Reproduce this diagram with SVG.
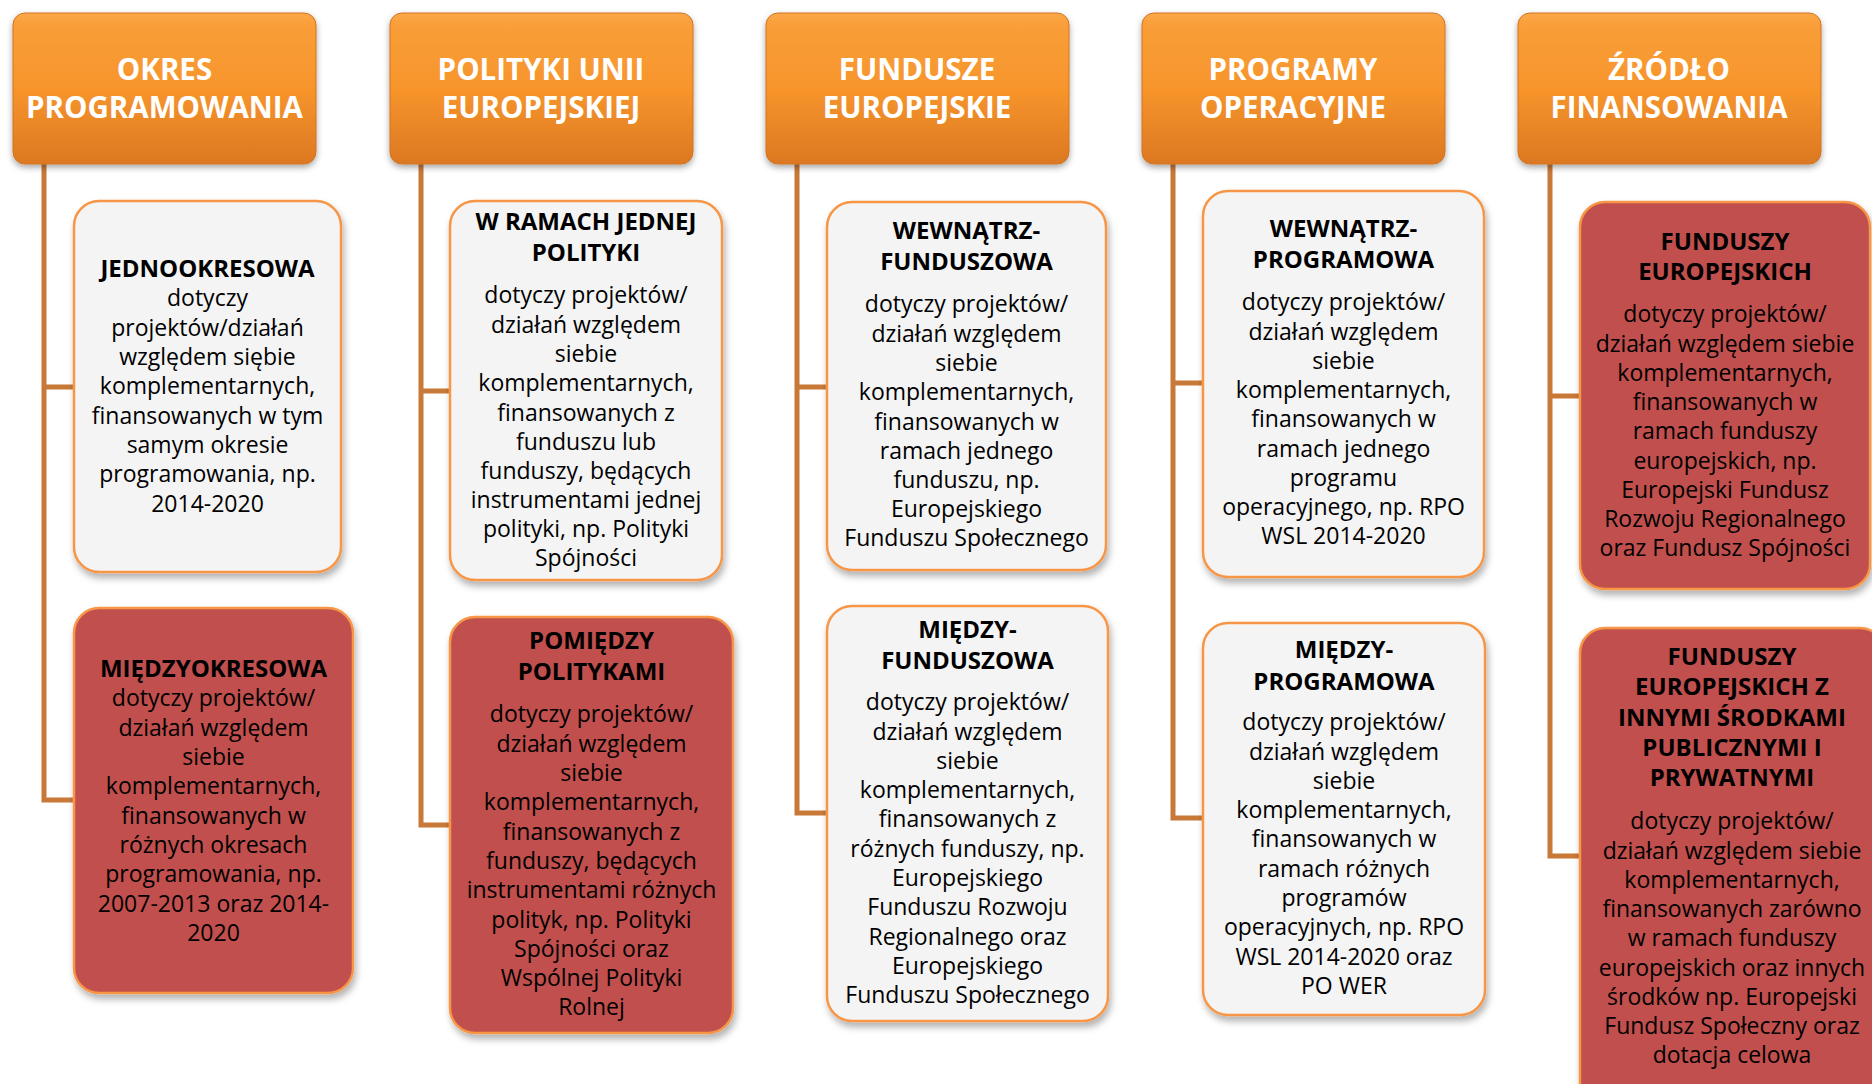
<svg xmlns="http://www.w3.org/2000/svg" width="1872" height="1084" viewBox="0 0 1872 1084">
<style>
.hdr{stroke:#D2741E;stroke-width:1;filter:url(#hs)}
.ht{font-family:"Open Sans","Noto Sans",sans-serif;font-weight:bold;font-size:29.5px;fill:#FFFFFF;text-anchor:middle}
.lt{fill:#F4F4F4;stroke:#F79646;stroke-width:2.5;filter:url(#bs)}
.rd{fill:#C0504D;stroke:#F79646;stroke-width:2.5;filter:url(#bs)}
.tt{font-family:"Open Sans","Noto Sans",sans-serif;font-weight:bold;font-size:24px;fill:#000;text-anchor:middle}
.bt{font-family:"Open Sans","Noto Sans",sans-serif;font-size:23px;fill:#000;text-anchor:middle}
.cn{fill:none;stroke:#C87937;stroke-width:5;stroke-linejoin:miter}
</style>
<defs>
<linearGradient id="hg" x1="0" y1="0" x2="0" y2="1">
<stop offset="0" stop-color="#FBA84A"/>
<stop offset="0.08" stop-color="#F99E38"/>
<stop offset="0.5" stop-color="#F7952C"/>
<stop offset="1" stop-color="#DC7822"/>
</linearGradient>
<filter id="hs" x="-10%" y="-10%" width="120%" height="130%">
<feDropShadow dx="0" dy="3" stdDeviation="3" flood-color="#000" flood-opacity="0.35"/>
</filter>
<filter id="bs" x="-10%" y="-10%" width="125%" height="125%">
<feDropShadow dx="2" dy="5" stdDeviation="3.5" flood-color="#000" flood-opacity="0.3"/>
</filter>
</defs>
<rect width="1872" height="1084" fill="#FFFFFF"/>

<g id="connectors">
<path class="cn" d="M44,164 V800 H74 M44,387 H74"/>
<path class="cn" d="M421,164 V825 H450 M421,391 H450"/>
<path class="cn" d="M797,164 V813 H827 M797,387 H827"/>
<path class="cn" d="M1173,164 V818 H1203 M1173,383 H1203"/>
<path class="cn" d="M1550,164 V856 H1580 M1550,396 H1580"/>
</g>

<g id="h1"><rect class="hdr" x="13" y="13" width="303" height="151" rx="12" fill="url(#hg)"/>
<text class="ht" x="164.5" y="80">OKRES</text><text class="ht" x="164.5" y="118">PROGRAMOWANIA</text></g>
<g id="h2"><rect class="hdr" x="390" y="13" width="303" height="151" rx="12" fill="url(#hg)"/>
<text class="ht" x="541" y="80">POLITYKI UNII</text><text class="ht" x="541" y="118">EUROPEJSKIEJ</text></g>
<g id="h3"><rect class="hdr" x="766" y="13" width="303" height="151" rx="12" fill="url(#hg)"/>
<text class="ht" x="917" y="80">FUNDUSZE</text><text class="ht" x="917" y="118">EUROPEJSKIE</text></g>
<g id="h4"><rect class="hdr" x="1142" y="13" width="303" height="151" rx="12" fill="url(#hg)"/>
<text class="ht" x="1293" y="80">PROGRAMY</text><text class="ht" x="1293" y="118">OPERACYJNE</text></g>
<g id="h5"><rect class="hdr" x="1518" y="13" width="303" height="151" rx="12" fill="url(#hg)"/>
<text class="ht" x="1669" y="80">ŹRÓDŁO</text><text class="ht" x="1669" y="118">FINANSOWANIA</text></g>

<g id="b1a"><rect class="lt" x="74" y="201" width="267" height="371" rx="25"/>
<text class="tt" x="207.5" y="277">JEDNOOKRESOWA</text>
<text class="bt" x="207.5" y="306">dotyczy</text>
<text class="bt" x="207.5" y="335.5">projektów/działań</text>
<text class="bt" x="207.5" y="365">względem siębie</text>
<text class="bt" x="207.5" y="394">komplementarnych,</text>
<text class="bt" x="207.5" y="423.5">finansowanych w tym</text>
<text class="bt" x="207.5" y="453">samym okresie</text>
<text class="bt" x="207.5" y="482">programowania, np.</text>
<text class="bt" x="207.5" y="511.5">2014-2020</text></g>

<g id="b1b"><rect class="rd" x="74" y="608" width="279" height="385" rx="25"/>
<text class="tt" x="213.5" y="677">MIĘDZYOKRESOWA</text>
<text class="bt" x="213.5" y="706">dotyczy projektów/</text>
<text class="bt" x="213.5" y="735.5">działań względem</text>
<text class="bt" x="213.5" y="765">siebie</text>
<text class="bt" x="213.5" y="794">komplementarnych,</text>
<text class="bt" x="213.5" y="823.5">finansowanych w</text>
<text class="bt" x="213.5" y="853">różnych okresach</text>
<text class="bt" x="213.5" y="882">programowania, np.</text>
<text class="bt" x="213.5" y="911.5">2007-2013 oraz 2014-</text>
<text class="bt" x="213.5" y="941">2020</text></g>

<g id="b2a"><rect class="lt" x="450" y="201" width="272" height="379" rx="25"/>
<text class="tt" x="586" y="230">W RAMACH JEDNEJ</text>
<text class="tt" x="586" y="261">POLITYKI</text>
<text class="bt" x="586" y="303">dotyczy projektów/</text>
<text class="bt" x="586" y="332.5">działań względem</text>
<text class="bt" x="586" y="362">siebie</text>
<text class="bt" x="586" y="391">komplementarnych,</text>
<text class="bt" x="586" y="420.5">finansowanych z</text>
<text class="bt" x="586" y="450">funduszu lub</text>
<text class="bt" x="586" y="479">funduszy, będących</text>
<text class="bt" x="586" y="508">instrumentami jednej</text>
<text class="bt" x="586" y="537">polityki, np. Polityki</text>
<text class="bt" x="586" y="566">Spójności</text></g>

<g id="b2b"><rect class="rd" x="450" y="617" width="283" height="416" rx="25"/>
<text class="tt" x="591.5" y="649">POMIĘDZY</text>
<text class="tt" x="591.5" y="680">POLITYKAMI</text>
<text class="bt" x="591.5" y="722">dotyczy projektów/</text>
<text class="bt" x="591.5" y="751.5">działań względem</text>
<text class="bt" x="591.5" y="781">siebie</text>
<text class="bt" x="591.5" y="810">komplementarnych,</text>
<text class="bt" x="591.5" y="839.5">finansowanych z</text>
<text class="bt" x="591.5" y="869">funduszy, będących</text>
<text class="bt" x="591.5" y="898">instrumentami różnych</text>
<text class="bt" x="591.5" y="927.5">polityk, np. Polityki</text>
<text class="bt" x="591.5" y="957">Spójności oraz</text>
<text class="bt" x="591.5" y="986">Wspólnej Polityki</text>
<text class="bt" x="591.5" y="1015">Rolnej</text></g>

<g id="b3a"><rect class="lt" x="827" y="202" width="279" height="368" rx="25"/>
<text class="tt" x="966.5" y="239">WEWNĄTRZ-</text>
<text class="tt" x="966.5" y="270">FUNDUSZOWA</text>
<text class="bt" x="966.5" y="312">dotyczy projektów/</text>
<text class="bt" x="966.5" y="341.5">działań względem</text>
<text class="bt" x="966.5" y="371">siebie</text>
<text class="bt" x="966.5" y="400">komplementarnych,</text>
<text class="bt" x="966.5" y="429.5">finansowanych w</text>
<text class="bt" x="966.5" y="459">ramach jednego</text>
<text class="bt" x="966.5" y="488">funduszu, np.</text>
<text class="bt" x="966.5" y="517">Europejskiego</text>
<text class="bt" x="966.5" y="546">Funduszu Społecznego</text></g>

<g id="b3b"><rect class="lt" x="827" y="606" width="281" height="415" rx="25"/>
<text class="tt" x="967.5" y="638">MIĘDZY-</text>
<text class="tt" x="967.5" y="669">FUNDUSZOWA</text>
<text class="bt" x="967.5" y="710">dotyczy projektów/</text>
<text class="bt" x="967.5" y="739.5">działań względem</text>
<text class="bt" x="967.5" y="769">siebie</text>
<text class="bt" x="967.5" y="798">komplementarnych,</text>
<text class="bt" x="967.5" y="827">finansowanych z</text>
<text class="bt" x="967.5" y="857">różnych funduszy, np.</text>
<text class="bt" x="967.5" y="886">Europejskiego</text>
<text class="bt" x="967.5" y="915">Funduszu Rozwoju</text>
<text class="bt" x="967.5" y="944.5">Regionalnego oraz</text>
<text class="bt" x="967.5" y="974">Europejskiego</text>
<text class="bt" x="967.5" y="1003">Funduszu Społecznego</text></g>

<g id="b4a"><rect class="lt" x="1203" y="191" width="281" height="386" rx="25"/>
<text class="tt" x="1343.5" y="237">WEWNĄTRZ-</text>
<text class="tt" x="1343.5" y="268">PROGRAMOWA</text>
<text class="bt" x="1343.5" y="310">dotyczy projektów/</text>
<text class="bt" x="1343.5" y="339.5">działań względem</text>
<text class="bt" x="1343.5" y="369">siebie</text>
<text class="bt" x="1343.5" y="398">komplementarnych,</text>
<text class="bt" x="1343.5" y="427">finansowanych w</text>
<text class="bt" x="1343.5" y="456.5">ramach jednego</text>
<text class="bt" x="1343.5" y="486">programu</text>
<text class="bt" x="1343.5" y="515">operacyjnego, np. RPO</text>
<text class="bt" x="1343.5" y="544">WSL 2014-2020</text></g>

<g id="b4b"><rect class="lt" x="1203" y="623" width="282" height="392" rx="25"/>
<text class="tt" x="1344" y="658">MIĘDZY-</text>
<text class="tt" x="1344" y="690">PROGRAMOWA</text>
<text class="bt" x="1344" y="730">dotyczy projektów/</text>
<text class="bt" x="1344" y="759.5">działań względem</text>
<text class="bt" x="1344" y="789">siebie</text>
<text class="bt" x="1344" y="818">komplementarnych,</text>
<text class="bt" x="1344" y="847">finansowanych w</text>
<text class="bt" x="1344" y="876.5">ramach różnych</text>
<text class="bt" x="1344" y="906">programów</text>
<text class="bt" x="1344" y="935">operacyjnych, np. RPO</text>
<text class="bt" x="1344" y="964.5">WSL 2014-2020 oraz</text>
<text class="bt" x="1344" y="994">PO WER</text></g>

<g id="b5a"><rect class="rd" x="1580" y="202" width="290" height="387" rx="25"/>
<text class="tt" x="1725" y="250">FUNDUSZY</text>
<text class="tt" x="1725" y="280">EUROPEJSKICH</text>
<text class="bt" x="1725" y="322">dotyczy projektów/</text>
<text class="bt" x="1725" y="351.5">działań względem siebie</text>
<text class="bt" x="1725" y="381">komplementarnych,</text>
<text class="bt" x="1725" y="410">finansowanych w</text>
<text class="bt" x="1725" y="439">ramach funduszy</text>
<text class="bt" x="1725" y="468.5">europejskich, np.</text>
<text class="bt" x="1725" y="498">Europejski Fundusz</text>
<text class="bt" x="1725" y="527">Rozwoju Regionalnego</text>
<text class="bt" x="1725" y="556">oraz Fundusz Spójności</text></g>

<g id="b5b"><rect class="rd" x="1580" y="628" width="305" height="480" rx="25"/>
<text class="tt" x="1732" y="665">FUNDUSZY</text>
<text class="tt" x="1732" y="695">EUROPEJSKICH Z</text>
<text class="tt" x="1732" y="725.5">INNYMI ŚRODKAMI</text>
<text class="tt" x="1732" y="756">PUBLICZNYMI I</text>
<text class="tt" x="1732" y="786">PRYWATNYMI</text>
<text class="bt" x="1732" y="829">dotyczy projektów/</text>
<text class="bt" x="1732" y="858.5">działań względem siebie</text>
<text class="bt" x="1732" y="888">komplementarnych,</text>
<text class="bt" x="1732" y="917">finansowanych zarówno</text>
<text class="bt" x="1732" y="946">w ramach funduszy</text>
<text class="bt" x="1732" y="975.5">europejskich oraz innych</text>
<text class="bt" x="1732" y="1005">środków np. Europejski</text>
<text class="bt" x="1732" y="1034">Fundusz Społeczny oraz</text>
<text class="bt" x="1732" y="1063">dotacja celowa</text></g>
</svg>
